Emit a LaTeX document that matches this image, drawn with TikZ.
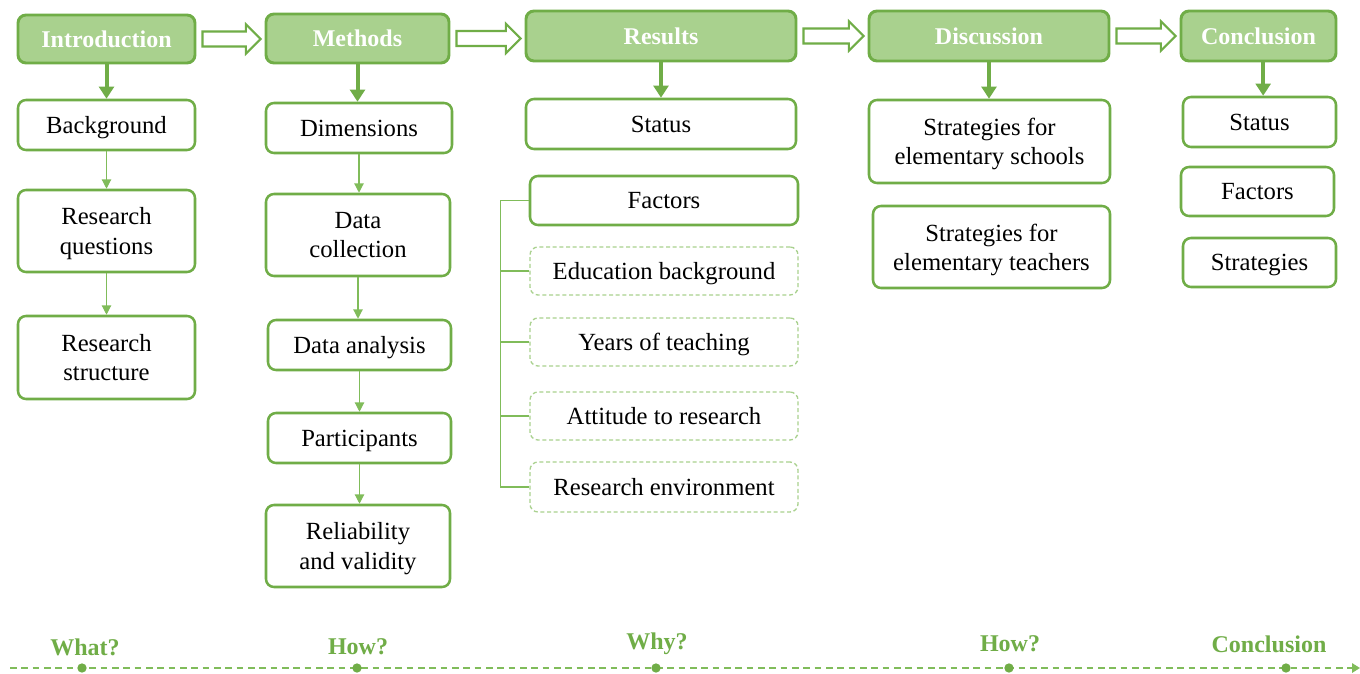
\documentclass[tikz,border=0pt]{standalone}
\usepackage{fontspec}
\setmainfont{Liberation Serif}
\usetikzlibrary{arrows.meta,calc}
\definecolor{gborder}{HTML}{70AD47}
\definecolor{gfill}{HTML}{A9D18E}
\definecolor{gline}{HTML}{80BC5A}
\tikzset{
  sz/.style 2 args={minimum width=#1*0.75pt, minimum height=#2*0.75pt},
  box/.style={draw=gborder, line width=1.9pt, rounded corners=6pt, fill=white, align=center,
    inner sep=0pt, text depth=0pt, font=\fontsize{18.5}{22}\selectfont},
  head/.style={box, line width=2.2pt, fill=gfill, text=white, font=\fontsize{18}{22}\selectfont\bfseries},
  dbox/.style={box, draw=gfill, line width=1pt, dash pattern=on 3pt off 2pt},
  thick arrow/.style={draw=gborder, line width=3pt, -{Triangle[length=9pt,width=11pt]}},
  thin arrow/.style={draw=gline, line width=0.9pt, -{Triangle[length=7pt,width=7pt]}},
  bracket/.style={draw=gline, line width=0.9pt},
  hollow/.style={draw=gborder, line width=1.6pt, fill=white, line join=miter},
  qlabel/.style={text=gborder, font=\fontsize{18}{20}\selectfont\bfseries},
  tdot/.style={circle, fill=gborder, inner sep=0pt, minimum size=7pt},
}
\newcommand{\hollowarrow}[2]{\draw[hollow] let \p1=(#1.east), \p2=(#2.west) in
  (\x1+4.5pt,\y1+5.6pt) -- (\x2-14pt,\y1+5.6pt) -- (\x2-14pt,\y1+11pt) -- (\x2-3pt,\y1)
  -- (\x2-14pt,\y1-11pt) -- (\x2-14pt,\y1-5.6pt) -- (\x1+4.5pt,\y1-5.6pt) -- cycle;}
\begin{document}
\begin{tikzpicture}[x=0.75pt,y=-0.75pt]
\useasboundingbox[fill=white] (0,0) rectangle (1360,674);
% headers
\node[head, sz={177}{48}] (intro) at (106.5,39) {Introduction};
\node[head, sz={183}{49}] (meth) at (357.5,38.5) {Methods};
\node[head, sz={270}{50}] (res) at (661,36) {Results};
\node[head, sz={240}{50}] (disc) at (989,36) {Discussion};
\node[head, sz={155}{50}] (conc) at (1258.5,36) {Conclusion};
\hollowarrow{intro}{meth}
\hollowarrow{meth}{res}
\hollowarrow{res}{disc}
\hollowarrow{disc}{conc}
% column 1
\node[box, sz={177}{50}] (bg) at (106.5,125) {Background};
\node[box, sz={177}{82}] (rq) at (106.5,231) {Research\\questions};
\node[box, sz={177}{83}] (rs) at (106.5,357.5) {Research\\structure};
% column 2
\node[box, sz={186}{50}] (dim) at (359,128) {Dimensions};
\node[box, sz={184}{82}] (dc) at (358,235) {Data\\collection};
\node[box, sz={183}{50}] (da) at (359.5,345) {Data analysis};
\node[box, sz={183}{50}] (part) at (359.5,438) {Participants};
\node[box, sz={184}{82}] (rv) at (358,546) {Reliability\\and validity};
% column 3
\node[box, sz={270}{50}] (st) at (661,124) {Status};
\node[box, sz={268}{49}] (fac) at (664,200.5) {Factors};
\node[dbox, sz={268}{48}] (edu) at (664,271) {Education background};
\node[dbox, sz={268}{48}] (yrs) at (664,342) {Years of teaching};
\node[dbox, sz={268}{48}] (att) at (664,416) {Attitude to research};
\node[dbox, sz={268}{50}] (env) at (664,487) {Research environment};
% column 4
\node[box, sz={241}{83}] (ss) at (989.5,141.5) {Strategies for\\elementary schools};
\node[box, sz={237}{82}] (stt) at (991.5,247) {Strategies for\\elementary teachers};
% column 5
\node[box, sz={153}{50}] (st2) at (1259.5,122) {Status};
\node[box, sz={153}{49}] (fac2) at (1257.5,191.5) {Factors};
\node[box, sz={153}{49}] (str2) at (1259.5,262.5) {Strategies};
% thick arrows
\draw[thick arrow] (intro.south) -- (intro.south |- bg.north);
\draw[thick arrow] (meth.south) -- (meth.south |- dim.north);
\draw[thick arrow] (res.south) -- (res.south |- st.north);
\draw[thick arrow] (disc.south) -- (disc.south |- ss.north);
\draw[thick arrow] ([xshift=3.5pt]conc.south) -- ([xshift=3.5pt]conc.south |- st2.north);
% thin arrows
\draw[thin arrow] (bg) -- (rq);
\draw[thin arrow] (rq) -- (rs);
\draw[thin arrow] (dim) -- (dim |- dc.north);
\draw[thin arrow] (dc) -- (dc |- da.north);
\draw[thin arrow] (da) -- (da |- part.north);
\draw[thin arrow] (part) -- (part |- rv.north);
% brackets
\draw[bracket] (fac.west) -- ++(-28,0) |- (edu.west);
\draw[bracket] (edu.west) -- ++(-29,0) |- (yrs.west);
\draw[bracket] (yrs.west) -- ++(-29,0) |- (att.west);
\draw[bracket] (att.west) -- ++(-29,0) |- (env.west);
% timeline
\coordinate (tl0) at (10,668);
\coordinate (tl1) at (1360,668);
\draw[draw=gline, line width=2pt, dash pattern=on 5pt off 3.5pt, -{Triangle[length=6pt,width=7pt]}] (tl0) -- (tl1);
\node[tdot] (d1) at (82,668) {};
\node[tdot] (d2) at (357,668) {};
\node[tdot] (d3) at (656,668) {};
\node[tdot] (d4) at (1009,668) {};
\node[tdot] (d5) at (1286,668) {};
\node[qlabel] (q1) at (85,647) {What?};
\node[qlabel] (q2) at (358,647) {How?};
\node[qlabel] (q3) at (657,644) {Why?};
\node[qlabel] (q4) at (1010,644) {How?};
\node[qlabel] (q5) at (1269,644) {Conclusion};
\end{tikzpicture}
\end{document}
